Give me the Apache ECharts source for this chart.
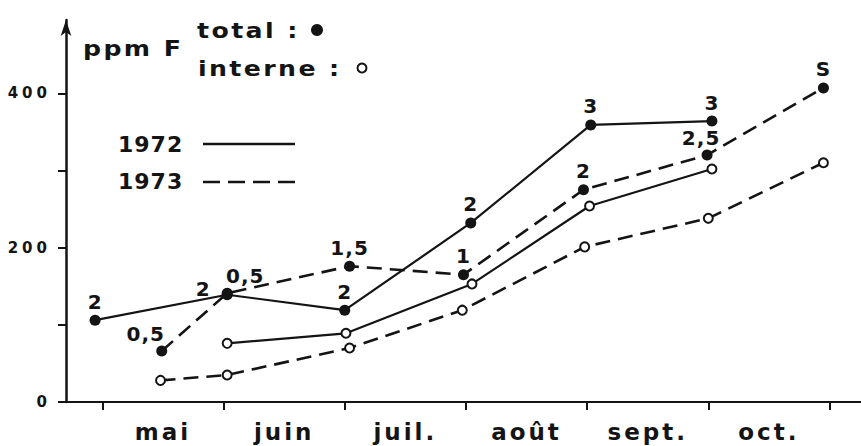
<!DOCTYPE html>
<html>
<head>
<meta charset="utf-8">
<script src="https://cdn.jsdelivr.net/npm/echarts@6/dist/echarts.min.js"></script>
<style>
  html, body { margin: 0; padding: 0; background: #fff; }
  #chart { width: 861px; height: 446px; }
  /* wide, spaced lettering of the hand-lettered figure */
  #chart text[style*="23px"] { letter-spacing: 3px; }
  #chart text[style*="15px"] { letter-spacing: 4px; }
  #chart text[style*="20px"] { letter-spacing: 1px; }
  #chart text[style*="21px"] { letter-spacing: 2px; }
  #chart text[style*="22px"] { letter-spacing: 1px; }
</style>
</head>
<body>
<div id="chart"></div>
<script>
// Fluorine content (ppm F) of leaves, May to October, 1972 and 1973.
// x is measured in months from the start of May (0 = 1 May, 1 = 1 June, ...).
const months = ['mai', 'juin', 'juil.', 'août', 'sept.', 'oct.'];
const monthTicks = [0, 1, 2, 3, 4, 5, 6];
const monthLabelAt = [0.5, 1.5, 2.5, 3.5, 4.5, 5.5];
const ppmTicks = [0, 100, 200, 300, 400];
const ppmLabels = [0, 200, 400];

const dates1972Total = [-0.06, 1.03, 2.0, 3.04, 4.03, 5.03];
const ppm1972Total = [106, 139, 119, 232, 359, 364];
const notes1972Total = ['2', '2', '2', '2', '3', '3'];

const dates1972Interne = [1.03, 2.01, 3.05, 4.02, 5.03];
const ppm1972Interne = [76, 89, 153, 254, 302];

const dates1973Total = [0.49, 1.03, 2.04, 2.98, 3.97, 4.99, 5.95];
const ppm1973Total = [66, 141, 176, 165, 275, 320, 407];
const notes1973Total = ['0,5', '0,5', '1,5', '1', '2', '2,5', 'S'];

const dates1973Interne = [0.48, 1.03, 2.04, 2.97, 3.98, 5.0, 5.95];
const ppm1973Interne = [28, 35, 70, 119, 201, 238, 310];

// label nudges (px) where a note would collide with a line
const nudge1972 = { 1: [-24, 13] };
const nudge1973 = { 0: [-16, 1], 1: [18, 1], 5: [-6, 1] };

const INK = '#141414';
const FONT = 'DejaVu Sans';

function points(dates, values, notes, nudge) {
  return dates.map((t, i) => {
    const item = { value: [t, values[i]] };
    if (notes) {
      item.label = { formatter: notes[i] };
      if (nudge && nudge[i]) item.label.offset = nudge[i];
    }
    return item;
  });
}

const noteLabel = {
  show: true, position: 'top', distance: 3,
  color: INK, fontFamily: FONT, fontWeight: 'bold', fontSize: 20
};

function totalSeries(name, data, dashed) {
  return {
    name, type: 'line', data,
    symbol: 'circle', symbolSize: 11,
    itemStyle: { color: INK, borderWidth: 0 },
    lineStyle: { color: INK, width: dashed ? 2.6 : 2.2, type: dashed ? [15, 8] : 'solid' },
    label: noteLabel, z: 3, animation: false
  };
}
function interneSeries(name, data, dashed) {
  return {
    name, type: 'line', data,
    symbol: 'circle', symbolSize: 9,
    itemStyle: { color: '#fff', borderColor: INK, borderWidth: 2 },
    lineStyle: { color: INK, width: dashed ? 2.6 : 2.2, type: dashed ? [15, 8] : 'solid' },
    z: 2, animation: false
  };
}

function legendText(text, x, y, size, stretch) {
  return {
    type: 'text', x, y, scaleX: stretch,
    style: {
      text, font: 'bold ' + size + 'px ' + FONT, fill: INK,
      align: 'left', verticalAlign: 'middle', textAlign: 'left', textVerticalAlign: 'middle'
    }
  };
}

const chart = echarts.init(document.getElementById('chart'), null, { renderer: 'svg' });
chart.setOption({
  backgroundColor: '#fff',
  animation: false,
  grid: { left: 66, right: 0, top: 20, bottom: 44 },
  xAxis: {
    type: 'value', min: -0.3, max: 6.26,
    axisLine: { show: true, onZero: false, lineStyle: { color: INK, width: 2.2 } },
    axisTick: { show: true, customValues: monthTicks, length: 8, lineStyle: { color: INK, width: 2 } },
    axisLabel: {
      customValues: monthLabelAt,
      formatter: v => months[Math.round(v - 0.5)],
      margin: 18, color: INK, fontFamily: FONT, fontWeight: 'bold', fontSize: 23
    },
    splitLine: { show: false }
  },
  yAxis: {
    type: 'value', min: 0, max: 495,
    axisLine: {
      show: true, onZero: false, symbol: ['none', 'arrow'], symbolSize: [8, 16],
      lineStyle: { color: INK, width: 2.5 }
    },
    axisTick: { show: true, customValues: ppmTicks, length: 8, lineStyle: { color: INK, width: 2 } },
    axisLabel: {
      customValues: ppmLabels, margin: 15, padding: [0, 0, 10, 0],
      color: INK, fontFamily: FONT, fontWeight: 'bold', fontSize: 15
    },
    splitLine: { show: false }
  },
  series: [
    interneSeries('1972', points(dates1972Interne, ppm1972Interne), false),
    interneSeries('1973', points(dates1973Interne, ppm1973Interne), true),
    totalSeries('1972', points(dates1972Total, ppm1972Total, notes1972Total, nudge1972), false),
    totalSeries('1973', points(dates1973Total, ppm1973Total, notes1973Total, nudge1973), true)
  ],
  graphic: [
    legendText('ppm F', 83, 48, 21, 1.2),
    legendText('total :', 197, 30, 21, 1.2),
    { type: 'circle', shape: { cx: 317, cy: 30, r: 6 }, style: { fill: INK } },
    legendText('interne :', 198, 68, 21, 1.2),
    { type: 'circle', shape: { cx: 362, cy: 68, r: 4.5 }, style: { fill: '#fff', stroke: INK, lineWidth: 2 } },
    legendText('1972', 118, 144, 22, 1),
    { type: 'line', shape: { x1: 203, y1: 144, x2: 295, y2: 144 }, style: { stroke: INK, lineWidth: 2.5 } },
    legendText('1973', 118, 181, 22, 1),
    { type: 'line', shape: { x1: 203, y1: 182, x2: 296, y2: 182 }, style: { stroke: INK, lineWidth: 2.5, lineDash: [17, 8] } }
  ]
});
</script>
</body>
</html>
